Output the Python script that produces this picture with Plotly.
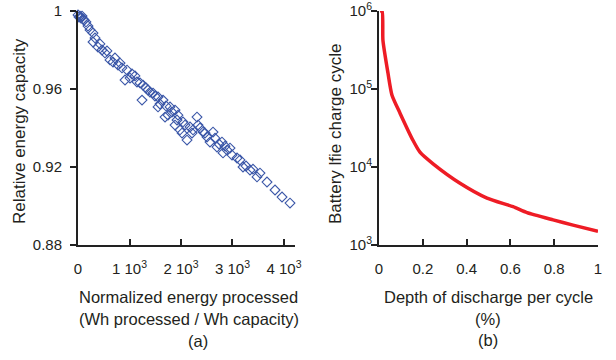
import plotly.graph_objects as go

# (a) Normalized energy processed vs relative energy capacity
energy_x = [0, 19, 39, 58, 78, 97, 117, 155, 194, 233, 291, 291, 330, 388, 427, 466, 524, 563,
            621, 680, 718, 777, 816, 854, 913, 952, 1010, 1049, 1107, 1146, 1204, 1243, 1262,
            1321, 1359, 1398, 1457, 1495, 1554, 1554, 1592, 1651, 1690, 1709, 1748, 1787, 1825,
            1884, 1884, 1923, 1942, 1981, 2020, 2039, 2078, 2117, 2175, 2214, 2233, 2311, 2330,
            2369, 2428, 2466, 2505, 2563, 2622, 2661, 2699, 2738, 2796, 2816, 2855, 2894, 2952,
            2991, 3088, 3146, 3204, 3263, 3340, 3398, 3476, 3534, 3670, 3826, 3962, 4117]
capacity_y = [0.998, 0.9969, 0.9974, 0.9964, 0.9974, 0.9959, 0.9954, 0.9944, 0.9923, 0.9903,
              0.9887, 0.9841, 0.9862, 0.9815, 0.9831, 0.9800, 0.9785, 0.9795, 0.9749, 0.9738,
              0.9759, 0.9723, 0.9733, 0.9708, 0.9646, 0.9697, 0.9656, 0.9677, 0.9667, 0.9636,
              0.9631, 0.9543, 0.9620, 0.9605, 0.9595, 0.9584, 0.9579, 0.9564, 0.9559, 0.9508,
              0.9523, 0.9543, 0.9456, 0.9513, 0.9466, 0.9508, 0.9482, 0.9492, 0.9415, 0.9441,
              0.9466, 0.9390, 0.9374, 0.9431, 0.9415, 0.9338, 0.9405, 0.9374, 0.9390, 0.9456,
              0.9415, 0.9400, 0.9379, 0.9374, 0.9354, 0.9328, 0.9379, 0.9348, 0.9302, 0.9318,
              0.9328, 0.9272, 0.9307, 0.9287, 0.9297, 0.9261, 0.9246, 0.9236, 0.9200, 0.9205,
              0.9184, 0.9189, 0.9149, 0.9169, 0.9123, 0.9082, 0.9046, 0.9015]

# (b) Depth of discharge vs battery life cycles
dod_x = [0.004, 0.014, 0.018, 0.041, 0.059, 0.096, 0.155, 0.187, 0.247, 0.37, 0.493, 0.612,
         0.676, 0.795, 0.886, 1.0]
cycles_y = [1.0e6, 1.0e6, 4.2e5, 1.6e5, 8.4e4, 4.9e4, 2.2e4, 1.55e4, 1.1e4, 6200, 4000, 3100,
            2600, 2100, 1800, 1500]

a_tickvals = [0, 1000, 2000, 3000, 4000]
a_ticktext = ["0", "1 10<sup>3</sup>", "2 10<sup>3</sup>", "3 10<sup>3</sup>", "4 10<sup>3</sup>"]
a_yticks = [0.88, 0.92, 0.96, 1.0]
a_yticktext = ["0.88", "0.92", "0.96", "1"]
b_xticks = [0, 0.2, 0.4, 0.6, 0.8, 1]
b_xticktext = ["0", "0.2", "0.4", "0.6", "0.8", "1"]
b_yticks = [1e3, 1e4, 1e5, 1e6]
b_yticktext = ["10<sup>3</sup>", "10<sup>4</sup>", "10<sup>5</sup>", "10<sup>6</sup>"]

TXT = "#231f20"
AX = "#222222"
FONT = "Liberation Sans, Arial, sans-serif"
CLEAR = "rgba(0,0,0,0)"

W, H = 616, 360
OFF = 0  # body margin removed by post_script


def px(x):
    return (x - OFF) / W


def py(y):
    return 1 - (y - OFF) / H


fig = go.Figure()
fig.add_trace(go.Scatter(x=energy_x, y=capacity_y, mode="markers", xaxis="x", yaxis="y",
                         cliponaxis=False,
                         marker=dict(symbol="diamond-open", size=7.5, color="#3b57a8",
                                     line=dict(width=1.1, color="#3b57a8"))))
fig.add_trace(go.Scatter(x=[None], y=[None], mode="markers", xaxis="x3", yaxis="y3",
                         hoverinfo="skip"))
fig.add_trace(go.Scatter(x=dod_x, y=cycles_y, mode="lines", xaxis="x2", yaxis="y2",
                         line=dict(color="#ee1c25", width=3.5, shape="spline", smoothing=0.6)))
fig.add_trace(go.Scatter(x=[None], y=[None], mode="markers", xaxis="x4", yaxis="y4",
                         hoverinfo="skip"))

ydom = [py(245), py(11)]
# axes that draw the visible line and tick marks (no labels)
marks = dict(showgrid=False, zeroline=False, showline=True, linecolor=AX, linewidth=1.5,
             tickcolor=AX, ticklen=6, tickwidth=1.5, automargin=False, showticklabels=False,
             layer="above traces")
# overlay axes that only place the tick labels
labels = dict(showgrid=False, zeroline=False, showline=False, tickcolor=CLEAR,
              tickwidth=1, automargin=False, ticks="outside", ticklabeloverflow="allow",
              tickfont=dict(size=15, color=TXT, family=FONT))

fig.update_layout(
    width=W, height=H, margin=dict(l=0, r=0, t=0, b=0, autoexpand=False),
    paper_bgcolor="white", plot_bgcolor="white", showlegend=False,
    font=dict(family=FONT, color=TXT),
    xaxis=dict(domain=[px(78), px(295)], range=[0, 4214], anchor="y",
               tickvals=a_tickvals, ticks="inside", **marks),
    yaxis=dict(domain=ydom, range=[0.88, 1.0], anchor="x",
               tickvals=a_yticks, ticks="outside", **marks),
    xaxis3=dict(overlaying="x", range=[0, 4214], anchor="y",
                tickvals=a_tickvals, ticktext=a_ticktext, ticklen=10, **labels),
    yaxis3=dict(overlaying="y", range=[0.88, 1.0], anchor="x",
                tickvals=a_yticks, ticktext=a_yticktext, ticklen=12, **labels),
    xaxis2=dict(domain=[px(379), px(598)], range=[0, 1], anchor="y2",
                tickvals=b_xticks, ticks="inside", **marks),
    yaxis2=dict(domain=ydom, type="log", range=[3, 6], anchor="x2",
                tickvals=b_yticks, ticks="outside", **marks),
    xaxis4=dict(overlaying="x2", range=[0, 1], anchor="y2",
                tickvals=b_xticks, ticktext=b_xticktext, ticklen=10, **labels),
    yaxis4=dict(overlaying="y2", type="log", range=[3, 6], anchor="x2",
                tickvals=b_yticks, ticktext=b_yticktext, ticklen=3, **labels),
)

ann = [
    dict(text="Relative energy capacity", x=19, y=131, textangle=-90, size=17),
    dict(text="Battery lfie charge cycle", x=335, y=134, textangle=-90, size=17),
    dict(text="Normalized energy processed", x=188, y=297, size=16.5),
    dict(text="(Wh processed / Wh capacity)", x=189, y=319, size=16.5),
    dict(text="(a)", x=198, y=341, size=16.5),
    dict(text="Depth of discharge per cycle", x=488, y=297, size=16.5),
    dict(text="(%)", x=488, y=319, size=16.5),
    dict(text="(b)", x=488, y=340, size=16.5),
]
for a in ann:
    fig.add_annotation(text=a["text"], x=px(a["x"]), y=py(a["y"]), xref="paper", yref="paper",
                       showarrow=False, textangle=a.get("textangle", 0),
                       xanchor="center", yanchor="middle",
                       font=dict(size=a["size"], color=TXT, family=FONT))

fig.write_html("out.html", config={"displayModeBar": False},
               post_script="document.body.style.margin='0px';document.body.style.padding='0px';")
